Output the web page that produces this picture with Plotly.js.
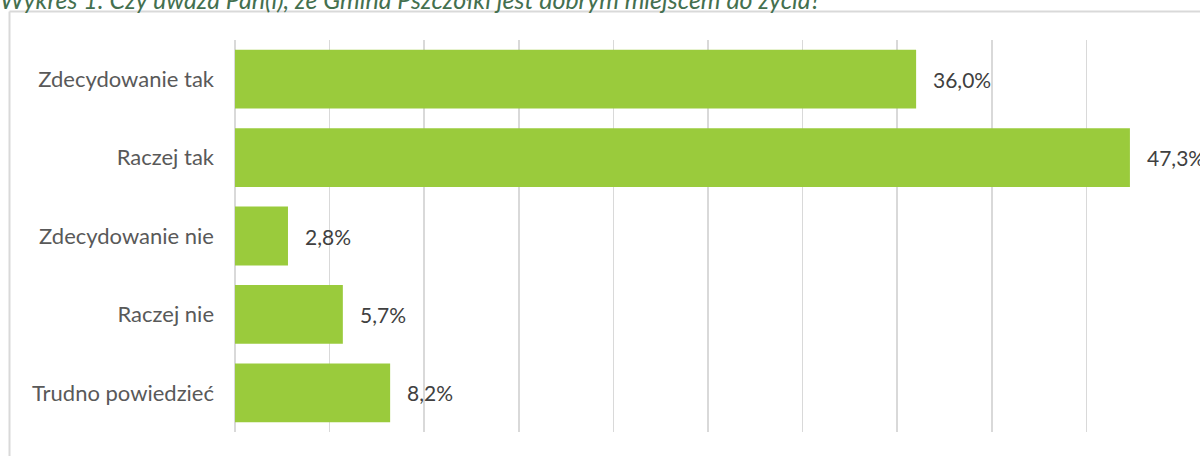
<!DOCTYPE html>
<html>
<head>
<meta charset="utf-8">
<script src="https://cdn.plot.ly/plotly-3.0.1.min.js"></script>
<style>html,body{margin:0;padding:0;background:#fff;}#chart{width:1200px;height:456px;}</style>
</head>
<body>
<div id="chart"></div>
<script>
const categories = ["Zdecydowanie tak", "Raczej tak", "Zdecydowanie nie", "Raczej nie", "Trudno powiedzieć"];
const values = [36.0, 47.3, 2.8, 5.7, 8.2];
const titleText = "Wykres 1. Czy uważa Pan(i), że Gmina Pszczółki jest dobrym miejscem do życia?";

const W = 1200, H = 456;
const M = {l: 235, r: 19, t: 40, b: 24};
const pw = W - M.l - M.r, ph = H - M.t - M.b;
const px2x = p => (p - M.l) / pw;
const py2y = p => (H - M.b - p) / ph;

const fontFam = "Lato, 'Open Sans', sans-serif";

const trace = {
  type: 'bar',
  orientation: 'h',
  y: categories,
  x: values,
  marker: {color: '#9acb3c'},
  hoverinfo: 'skip'
};

const annotations = values.map((v, i) => ({
  x: v, y: categories[i], xref: 'x', yref: 'y',
  text: v.toFixed(1).replace('.', ',') + '%',
  showarrow: false, xanchor: 'left', yanchor: 'middle', xshift: 15,
  font: {family: fontFam, size: 21, color: '#404040'}
}));

const layout = {
  width: W, height: H,
  margin: M,
  paper_bgcolor: '#fff', plot_bgcolor: '#fff',
  bargap: 0.25,
  showlegend: false,
  title: {
    text: '<i>' + titleText + '</i>',
    x: 0, xref: 'container', xanchor: 'left', pad: {l: 0, r: 0, t: 0, b: 0},
    y: 1, yref: 'container', yanchor: 'middle',
    font: {family: fontFam, size: 25, color: '#44704f'}
  },
  xaxis: {
    range: [0, 50], dtick: 5, tick0: 0,
    showticklabels: false, showgrid: true, gridcolor: '#d9d9d9', gridwidth: 1.5,
    zeroline: true, zerolinecolor: '#d9d9d9', zerolinewidth: 1.5,
    showline: false, fixedrange: true
  },
  yaxis: {
    autorange: 'reversed', type: 'category',
    showgrid: false, zeroline: false, showline: false,
    ticks: '', ticklabelstandoff: 20,
    tickfont: {family: fontFam, size: 22, color: '#595959'},
    fixedrange: true
  },
  annotations: annotations,
  shapes: [
    {type: 'line', xref: 'paper', yref: 'paper', x0: px2x(9.5), x1: px2x(1210), y0: py2y(11.5), y1: py2y(11.5), line: {color: '#d9d9d9', width: 2}},
    {type: 'line', xref: 'paper', yref: 'paper', x0: px2x(9.5), x1: px2x(9.5), y0: py2y(11.5), y1: py2y(470), line: {color: '#d9d9d9', width: 2}}
  ]
};

Plotly.newPlot('chart', [trace], layout, {displayModeBar: false, staticPlot: true});
</script>
</body>
</html>
